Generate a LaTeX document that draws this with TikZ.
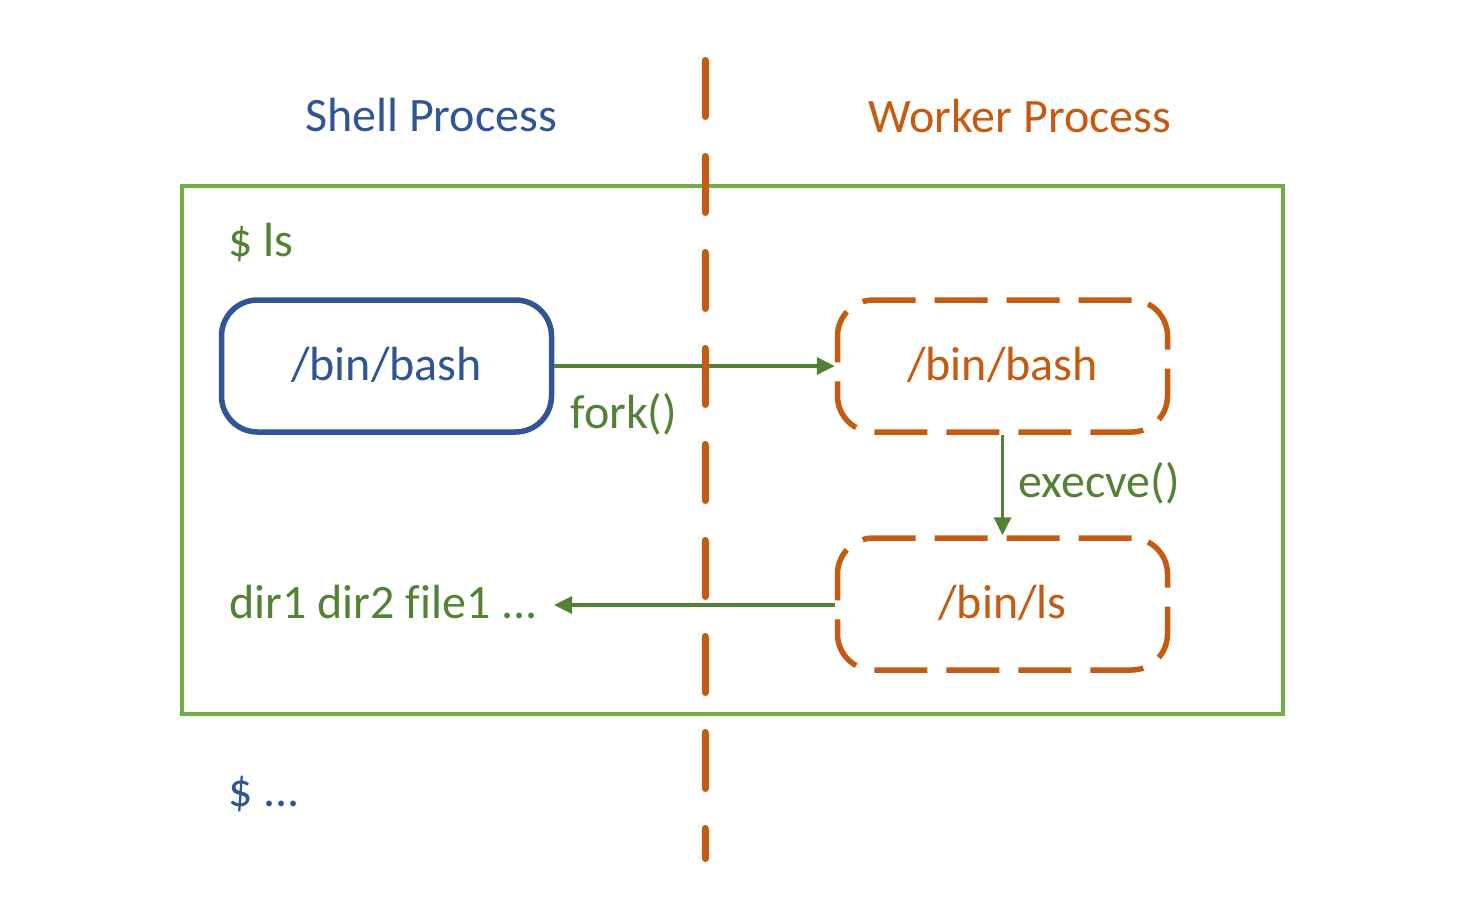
\documentclass[tikz,border=0pt]{standalone}
\usepackage{fontspec}
\setmainfont{Carlito}[Ligatures=NoCommon]
\usetikzlibrary{arrows.meta}
\definecolor{grnbox}{HTML}{70AD47}
\definecolor{grnarr}{HTML}{548235}
\definecolor{blu}{HTML}{2F5597}
\definecolor{org}{HTML}{C55A11}
\begin{document}
\begin{tikzpicture}[x=0.5pt,y=-0.5pt,
  lbl/.style={inner sep=0pt, font=\fontsize{24}{28}\selectfont},
  procbox/.style={rounded corners=18pt, minimum width=165pt, minimum height=66pt, inner sep=0pt,
    font=\fontsize{24}{28}\selectfont, text height=17pt, text depth=2.5pt, line width=2.75pt},
  shellbox/.style={procbox, draw=blu, text=blu},
  workerbox/.style={procbox, draw=org, text=org, dash pattern=on 26.5pt off 9.5pt},
  call/.style={draw=grnarr, line width=1.75pt, -{Triangle[length=9pt,width=8.5pt]}},
  divider/.style={draw=org, line width=3.5pt, line cap=round, dash pattern=on 28pt off 20pt},
]
\useasboundingbox (0,0) rectangle (1467,922);
% session frame
\node[draw=grnbox, line width=1.75pt, minimum width=550.5pt, minimum height=264pt, inner sep=0pt] (frame) at (732.5,450) {};
% process boxes
\node[shellbox] (bash1) at (386.5,366) {/bin/bash};
\node[workerbox] (bash2) at (1002.5,366) {/bin/bash};
\node[workerbox] (ls) at (1002.5,604) {/bin/ls};
% output text
\node[lbl, text=grnarr, anchor=base west] (out) at (229,618) {dir1 dir2 file1 ...};
\coordinate (outtip) at (554,605);
% arrows
\draw[call] (bash1.east) -- (bash2.west);
\draw[call] (bash2.south) -- (ls.north);
\draw[call] (ls.west |- outtip) -- (outtip);
% divider
\coordinate (dtop) at (705,60.5);
\coordinate (dbot) at (705,858.5);
\draw[divider] (dtop) -- (dbot);
% labels
\node[lbl, text=blu, anchor=base] (shell) at (431,131) {Shell Process};
\node[lbl, text=org, anchor=base] (worker) at (1020,132) {Worker Process};
\node[lbl, text=grnarr, anchor=base west] (cmd) at (228,256) {\$ ls};
\node[lbl, text=grnarr, anchor=base west] (fork) at (570,428) {fork()};
\node[lbl, text=grnarr, anchor=base west] (execve) at (1018,497) {execve()};
\node[lbl, text=blu, anchor=base west] (prompt) at (228,806) {\$ ...};
\end{tikzpicture}
\end{document}
